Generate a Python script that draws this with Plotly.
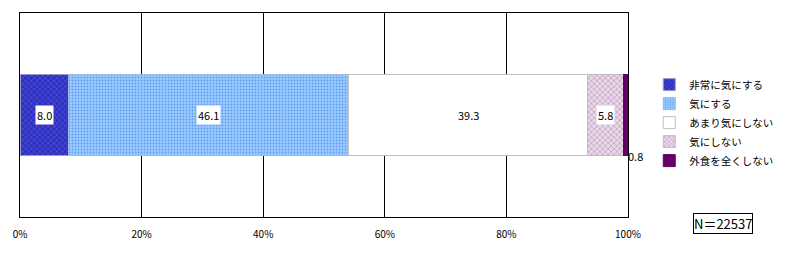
import plotly.graph_objects as go
import numpy as np

series_names = ["非常に気にする", "気にする", "あまり気にしない", "気にしない", "外食を全くしない"]
values = [8.0, 46.1, 39.3, 5.8, 0.8]
category = [""]
x_ticks = [0, 20, 40, 60, 80, 100]
n_label = "N＝22537"

styles = [
    dict(color="#2f2fc0", pattern=dict(shape="x", fgcolor="#8080ff", size=4, solidity=0.3)),
    dict(color="#99ccff", pattern=dict(shape=".", fgcolor="#3366ee", size=3, solidity=0.3)),
    dict(color="#ffffff"),
    dict(color="#e8d8e8", pattern=dict(shape="x", fgcolor="#aa77aa", size=4, solidity=0.4)),
    dict(color="#660066"),
]
line_colors = ["#9999cc", "#9fb8e0", "#c0c0c0", "#c8b8c8", "#660066"]

fig = go.Figure()
for name, v, st, lc in zip(series_names, values, styles, line_colors):
    marker = dict(color=st["color"], line=dict(color=lc, width=1))
    if "pattern" in st:
        marker["pattern"] = st["pattern"]
    fig.add_trace(go.Bar(
        y=category, x=[v], name=name, orientation="h",
        marker=marker, width=0.4,
    ))

cum = np.cumsum(values)
starts = cum - np.array(values)
font = dict(family="Noto Sans CJK JP", size=11, color="#000000")
for i, v in enumerate(values):
    if v >= 3:
        fig.add_annotation(x=starts[i] + v / 2, y=0, text=f"{v:.1f}", showarrow=False,
                           bgcolor="#ffffff" if i != 2 else "rgba(0,0,0,0)",
                           font=font, borderpad=1)
    else:
        fig.add_annotation(x=cum[i], y=-0.2, text=f"{v:.1f}", showarrow=False,
                           xanchor="left", yanchor="middle", font=font, xshift=-2)

fig.add_annotation(xref="paper", yref="paper", x=1.156, y=-0.032, text=n_label,
                   xanchor="center", yanchor="middle",
                   showarrow=False, bordercolor="#000000", borderwidth=1,
                   bgcolor="#ffffff", font=dict(family="Noto Sans CJK JP", size=13, color="#000"),
                   borderpad=0)

fig.update_layout(
    width=790, height=257,
    margin=dict(l=20, r=162, t=13, b=40, autoexpand=False),
    barmode="stack",
    plot_bgcolor="#ffffff", paper_bgcolor="#ffffff",
    showlegend=True,
    legend=dict(x=1.035, y=0.72, xanchor="left", yanchor="top",
                font=dict(family="Noto Sans CJK JP", size=10.5, color="#000"),
                traceorder="normal", itemwidth=30, tracegroupgap=0),
    xaxis=dict(range=[0, 100], tickvals=x_ticks, ticktext=[f"{t}%" for t in x_ticks],
               showgrid=True, gridcolor="#000000", gridwidth=1,
               showline=True, linecolor="#000000", linewidth=1, mirror=True,
               ticks="", ticklabelstandoff=8, zeroline=False,
               tickfont=dict(family="Noto Sans CJK JP", size=10, color="#000")),
    yaxis=dict(range=[-0.5, 0.5], showticklabels=False, showgrid=False,
               showline=True, linecolor="#000000", linewidth=1, mirror=True, ticks=""),
)

fig.write_html("out.html")
